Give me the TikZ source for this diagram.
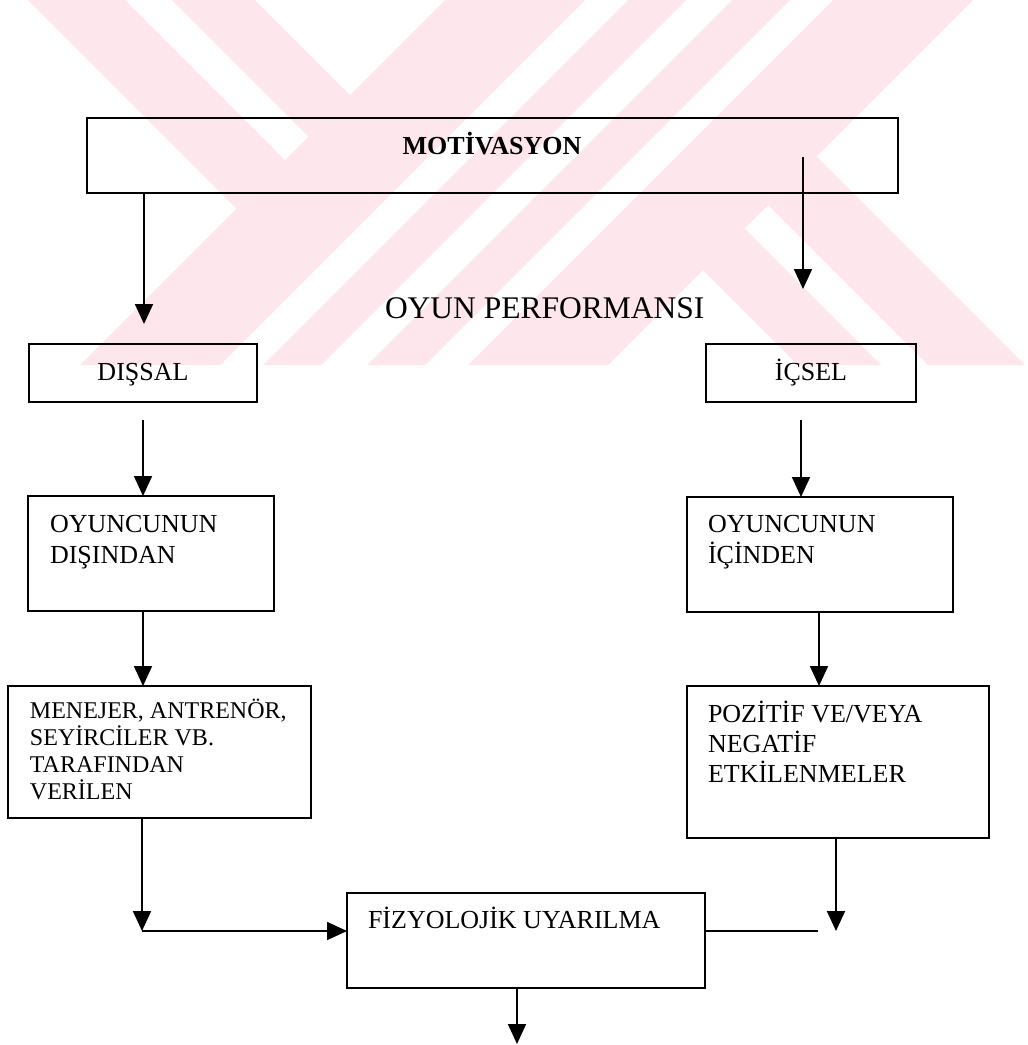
\documentclass[tikz,border=0pt]{standalone}
\usepackage{fontspec}
\setmainfont{Liberation Serif}
\usetikzlibrary{arrows.meta}
\definecolor{wmpink}{RGB}{253,231,236}
\begin{document}
\begin{tikzpicture}[x=1pt,y=-1pt,
  box/.style={draw, line width=1.8pt, inner sep=0pt, outer sep=0pt},
  arr/.style={line width=1.8pt, -{Triangle[length=20pt,width=18pt]}},
  plain/.style={line width=1.8pt},
  txt/.style={font=\fontsize{26}{31.7}\selectfont, inner sep=0pt, outer sep=0pt},
  txtb/.style={font=\bfseries\fontsize{26}{31.7}\selectfont, inner sep=0pt, outer sep=0pt},
  txtbig/.style={font=\fontsize{31.5}{36}\selectfont, inner sep=0pt, outer sep=0pt},
  txtsm/.style={font=\fontsize{24}{27.3}\selectfont, inner sep=0pt, outer sep=0pt},
  txtp/.style={font=\fontsize{26}{30}\selectfont, inner sep=0pt, outer sep=0pt}]
\useasboundingbox (0,0) rectangle (1028,1045);
\fill[white] (0,0) rectangle (1028,1045);
% watermark
\fill[wmpink] (28,0) -- (125,0) -- (285,160) -- (236.5,208.5) -- cycle;
\fill[wmpink] (172,0) -- (255,0) -- (350,95) -- (308.5,136.5) -- cycle;
\fill[wmpink] (445,0) -- (585,0) -- (220,365) -- (80,365) -- cycle;
\fill[wmpink] (628,0) -- (686,0) -- (321,365) -- (263,365) -- cycle;
\fill[wmpink] (732,0) -- (790,0) -- (425,365) -- (367,365) -- cycle;
\fill[wmpink] (833,0) -- (973,0) -- (608,365) -- (468,365) -- cycle;
\fill[wmpink] (816.5,156.5) -- (1025,365) -- (928,365) -- (768,205) -- cycle;
\fill[wmpink] (744.5,228.5) -- (881,365) -- (798,365) -- (703,270) -- cycle;
% boxes
\node[box, minimum width=811pt, minimum height=75pt] (mot) at (492.5,155.5) {};
\node[box, minimum width=228pt, minimum height=58pt] (dissal) at (143,373) {};
\node[box, minimum width=210pt, minimum height=58pt] (icsel) at (811,373) {};
\node[box, minimum width=246pt, minimum height=115pt] (disindan) at (151,553.5) {};
\node[box, minimum width=266pt, minimum height=115pt] (icinden) at (820,554.5) {};
\node[box, minimum width=303pt, minimum height=132pt] (menejer) at (159.5,752) {};
\node[box, minimum width=302pt, minimum height=152pt] (pozitif) at (838,762) {};
\node[box, minimum width=358pt, minimum height=95pt] (fizyo) at (526,940.5) {};
% texts
\node[txtb, anchor=base] (tmot) at (492,154) {MOTİVASYON};
\node[txtbig, anchor=base west] (tperf) at (385,318) {OYUN PERFORMANSI};
\node[txt, anchor=base] (tdissal) at (143,380) {DIŞSAL};
\node[txt, anchor=base] (ticsel) at (811,380) {İÇSEL};
\node[txt, anchor=base west] (tdisindan) at (50,532) {\vtop{\hbox{OYUNCUNUN}\hbox{DIŞINDAN}}};
\node[txt, anchor=base west] (ticinden) at (708,532) {\vtop{\hbox{OYUNCUNUN}\hbox{İÇİNDEN}}};
\node[txtsm, anchor=base west] (tmenejer) at (30,718) {\vtop{\hbox{MENEJER, ANTRENÖR,}\hbox{SEYİRCİLER VB.}\hbox{TARAFINDAN}\hbox{VERİLEN}}};
\node[txtp, anchor=base west] (tpozitif) at (708,722) {\vtop{\hbox{POZİTİF VE/VEYA}\hbox{NEGATİF}\hbox{ETKİLENMELER}}};
\node[txt, anchor=base west] (tfizyo) at (368,928) {FİZYOLOJİK UYARILMA};
% coordinates
\coordinate (t1) at (144,324);
\coordinate (s2) at (803,157);
\coordinate (t2) at (803,289);
\coordinate (s3) at (143,420);
\coordinate (s4) at (801,420);
\coordinate (j1) at (142,931);
\coordinate (j2) at (836,931);
\coordinate (j3) at (818,931);
\coordinate (e9) at (517,1044);
% connectors
\draw[arr] (mot.south -| t1) -- (t1);
\draw[arr] (s2) -- (t2);
\draw[arr] (s3) -- (s3 |- disindan.north);
\draw[arr] (s4) -- (s4 |- icinden.north);
\draw[arr] (disindan.south -| s3) -- (menejer.north -| s3);
\draw[arr] (icinden.south -| 819,0) -- (pozitif.north -| 819,0);
\draw[arr] (menejer.south -| j1) -- (j1);
\draw[arr] (j1) -- (j1 -| fizyo.west);
\draw[arr] (pozitif.south -| j2) -- (j2);
\draw[plain] (j2 -| fizyo.east) -- (j3);
\draw[arr] (fizyo.south -| e9) -- (e9);
\end{tikzpicture}
\end{document}
